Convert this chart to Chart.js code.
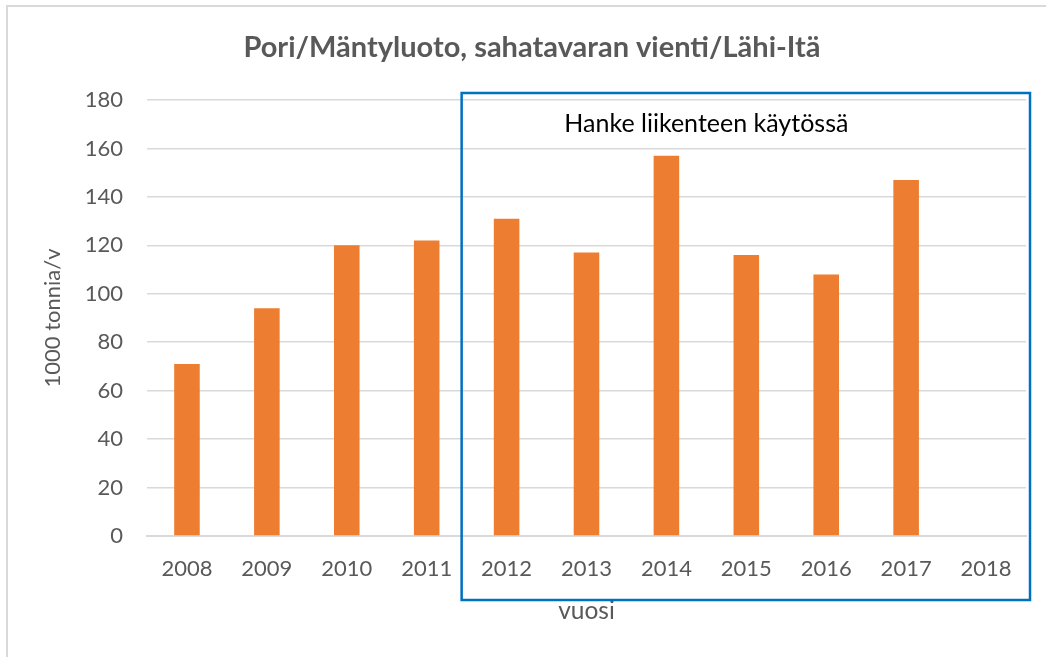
<!DOCTYPE html>
<html>
<head>
<meta charset="utf-8">
<script src="https://cdn.jsdelivr.net/npm/chart.js@4/dist/chart.umd.min.js"></script>
<style>
  html, body { margin: 0; padding: 0; background: #ffffff; }
  canvas { display: block; }
</style>
</head>
<body>
<canvas id="c" width="1046" height="657"></canvas>
<script>
// ---- data ----
const years = ['2008', '2009', '2010', '2011', '2012', '2013', '2014', '2015', '2016', '2017', '2018'];
const exportValues = [71, 94, 120, 122, 131, 117, 157, 116, 108, 147, null];
const yMin = 0;
const yMax = 180;
const yStep = 20;
const chartTitle = 'Pori/Mäntyluoto, sahatavaran vienti/Lähi-Itä';
const yTitle = '1000 tonnia/v';
const xTitle = 'vuosi';
const noteText = 'Hanke liikenteen käytössä';
const projectStartYear = '2012';
const noteBetween = ['2014', '2015'];
const noteValue = 170;

const FONT = 'Lato, "Open Sans", sans-serif';
const GREY = '#595959';

const decorPlugin = {
  id: 'decor',
  beforeDraw(chart) {
    const ctx = chart.ctx;
    ctx.save();
    ctx.fillStyle = '#ffffff';
    ctx.fillRect(0, 0, chart.width, chart.height);
    // outer chart border (only top/left visible)
    ctx.strokeStyle = '#d9d9d9';
    ctx.lineWidth = 2;
    ctx.strokeRect(7, 6, chart.width + 20, chart.height + 20);
    ctx.restore();
  },
  afterDraw(chart) {
    const ctx = chart.ctx;
    const xs = chart.scales.x;
    const ys = chart.scales.y;
    const area = chart.chartArea;
    const si = years.indexOf(projectStartYear);
    const left = (xs.getPixelForValue(si - 1) + xs.getPixelForValue(si)) / 2 - 5;
    const right = area.right + 4;
    const top = ys.getPixelForValue(yMax) - 7;
    const bottom = ys.getPixelForValue(yMin) + 64;
    ctx.save();
    ctx.strokeStyle = '#0070C0';
    ctx.lineWidth = 2.5;
    ctx.strokeRect(left, top, right - left, bottom - top);
    const a = years.indexOf(noteBetween[0]);
    const b = years.indexOf(noteBetween[1]);
    const tx = (xs.getPixelForValue(a) + xs.getPixelForValue(b)) / 2;
    const ty = ys.getPixelForValue(noteValue);
    ctx.fillStyle = '#000000';
    ctx.font = '25px ' + FONT;
    ctx.textAlign = 'center';
    ctx.textBaseline = 'middle';
    ctx.fillText(noteText, tx, ty);
    ctx.restore();
  }
};

new Chart(document.getElementById('c'), {
  type: 'bar',
  data: {
    labels: years,
    datasets: [{
      data: exportValues,
      backgroundColor: '#ED7D31',
      borderWidth: 0,
      categoryPercentage: 1,
      barPercentage: 0.32
    }]
  },
  plugins: [decorPlugin],
  options: {
    responsive: false,
    animation: false,
    devicePixelRatio: 1,
    layout: { padding: { left: 38, right: 20, top: 0, bottom: 0 } },
    plugins: {
      legend: { display: false },
      tooltip: { enabled: false },
      title: {
        display: true,
        text: chartTitle,
        color: GREY,
        font: { family: FONT, size: 29, weight: 'bold', lineHeight: 1.2 },
        padding: { top: 30, bottom: 35.2 }
      }
    },
    scales: {
      x: {
        grid: { display: false, drawTicks: false },
        border: { display: true, color: '#d9d9d9', width: 2 },
        ticks: { color: GREY, font: { family: FONT, size: 22 }, padding: 20, maxRotation: 0 },
        title: {
          display: true, text: xTitle, color: GREY,
          font: { family: FONT, size: 24.5, lineHeight: 1.2 },
          padding: { top: 0, bottom: 31 }
        },
        afterFit(scale) { scale.height = 121; }
      },
      y: {
        min: yMin, max: yMax,
        grid: { color: '#d9d9d9', lineWidth: 1.5, drawTicks: false },
        border: { display: false },
        ticks: { stepSize: yStep, color: GREY, font: { family: FONT, size: 22 }, padding: 24 },
        title: {
          display: true, text: yTitle, color: GREY,
          font: { family: FONT, size: 22, lineHeight: 1.2 },
          padding: { top: 1.3, bottom: 0 }
        },
        afterFit(scale) { scale.width = 109; }
      }
    }
  }
});
</script>
</body>
</html>
